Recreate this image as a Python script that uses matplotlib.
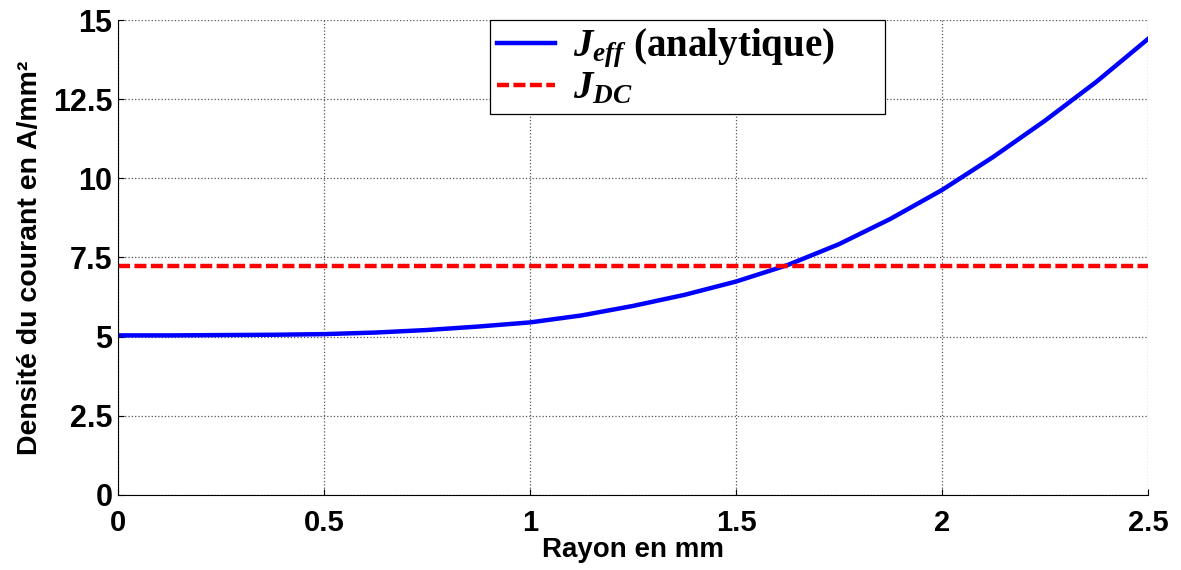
import matplotlib
matplotlib.use("Agg")
import matplotlib.pyplot as plt

# values
rayon = [0, 0.125, 0.25, 0.375, 0.5, 0.625, 0.75, 0.875, 1.0, 1.125, 1.25,
         1.375, 1.5, 1.625, 1.75, 1.875, 2.0, 2.125, 2.25, 2.375, 2.5]
j_eff = [5.04, 5.04, 5.05, 5.06, 5.08, 5.13, 5.21, 5.32, 5.45, 5.67, 5.97,
         6.32, 6.74, 7.26, 7.92, 8.72, 9.63, 10.68, 11.82, 13.05, 14.4]
j_dc = 7.22
x_ticks = [0, 0.5, 1, 1.5, 2, 2.5]
x_labels = ['0', '0.5', '1', '1.5', '2', '2.5']
y_ticks = [0, 2.5, 5, 7.5, 10, 12.5, 15]
y_labels = ['0', '2.5', '5', '7.5', '10', '12.5', '15']

plt.rcParams['font.family'] = ['Liberation Sans', 'DejaVu Sans']
plt.rcParams['mathtext.fontset'] = 'custom'
plt.rcParams['mathtext.it'] = 'Liberation Serif:bold:italic'
plt.rcParams['mathtext.rm'] = 'Liberation Serif:bold'
plt.rcParams['mathtext.bf'] = 'Liberation Serif:bold'

fig = plt.figure(figsize=(11.81, 5.70), dpi=100)
ax = fig.add_axes([0.0999, 0.1316, 0.8721, 0.8333])

ax.plot(rayon, j_eff, color='#0000FF', linewidth=3.2, solid_joinstyle='round',
        label=r'$J_{eff}$ (analytique)')
ax.plot([rayon[0], rayon[-1]], [j_dc, j_dc], color='#FF0000', linewidth=3.2,
        linestyle=(0, (2.7, 1.0)), label=r'$J_{DC}$')

ax.set_xlim(0, 2.5)
ax.set_ylim(0, 15)
ax.set_xticks(x_ticks)
ax.set_xticklabels(x_labels, fontsize=21, fontweight='bold')
ax.set_yticks(y_ticks)
ax.set_yticklabels(y_labels, fontsize=22, fontweight='bold')
ax.tick_params(direction='in', length=4, width=0.8)
ax.tick_params(axis='x', pad=10)
ax.tick_params(axis='y', pad=4)

ax.grid(True, linestyle=':', color='#555555', linewidth=0.9)
ax.spines['top'].set_visible(False)
ax.spines['right'].set_visible(False)

ax.set_xlabel('Rayon en mm', fontsize=20, fontweight='bold', labelpad=0)
ax.set_ylabel('Densité du courant en A/mm²', fontsize=20.5, fontweight='bold',
              labelpad=7)

# legend box spans from x=490 to x=885 px in the reference
leg = ax.legend(loc='upper left', bbox_to_anchor=(0.361, 0.0, 0.3835, 1.0),
                mode='expand', borderaxespad=0, fancybox=False, framealpha=1,
                edgecolor='black', handlelength=1.5, handletextpad=0.45,
                borderpad=0.18, labelspacing=0.0,
                prop={'family': 'Liberation Serif', 'weight': 'bold',
                      'size': 28})
leg.get_frame().set_linewidth(0.9)

fig.savefig('out.png', dpi=100, facecolor='white')
